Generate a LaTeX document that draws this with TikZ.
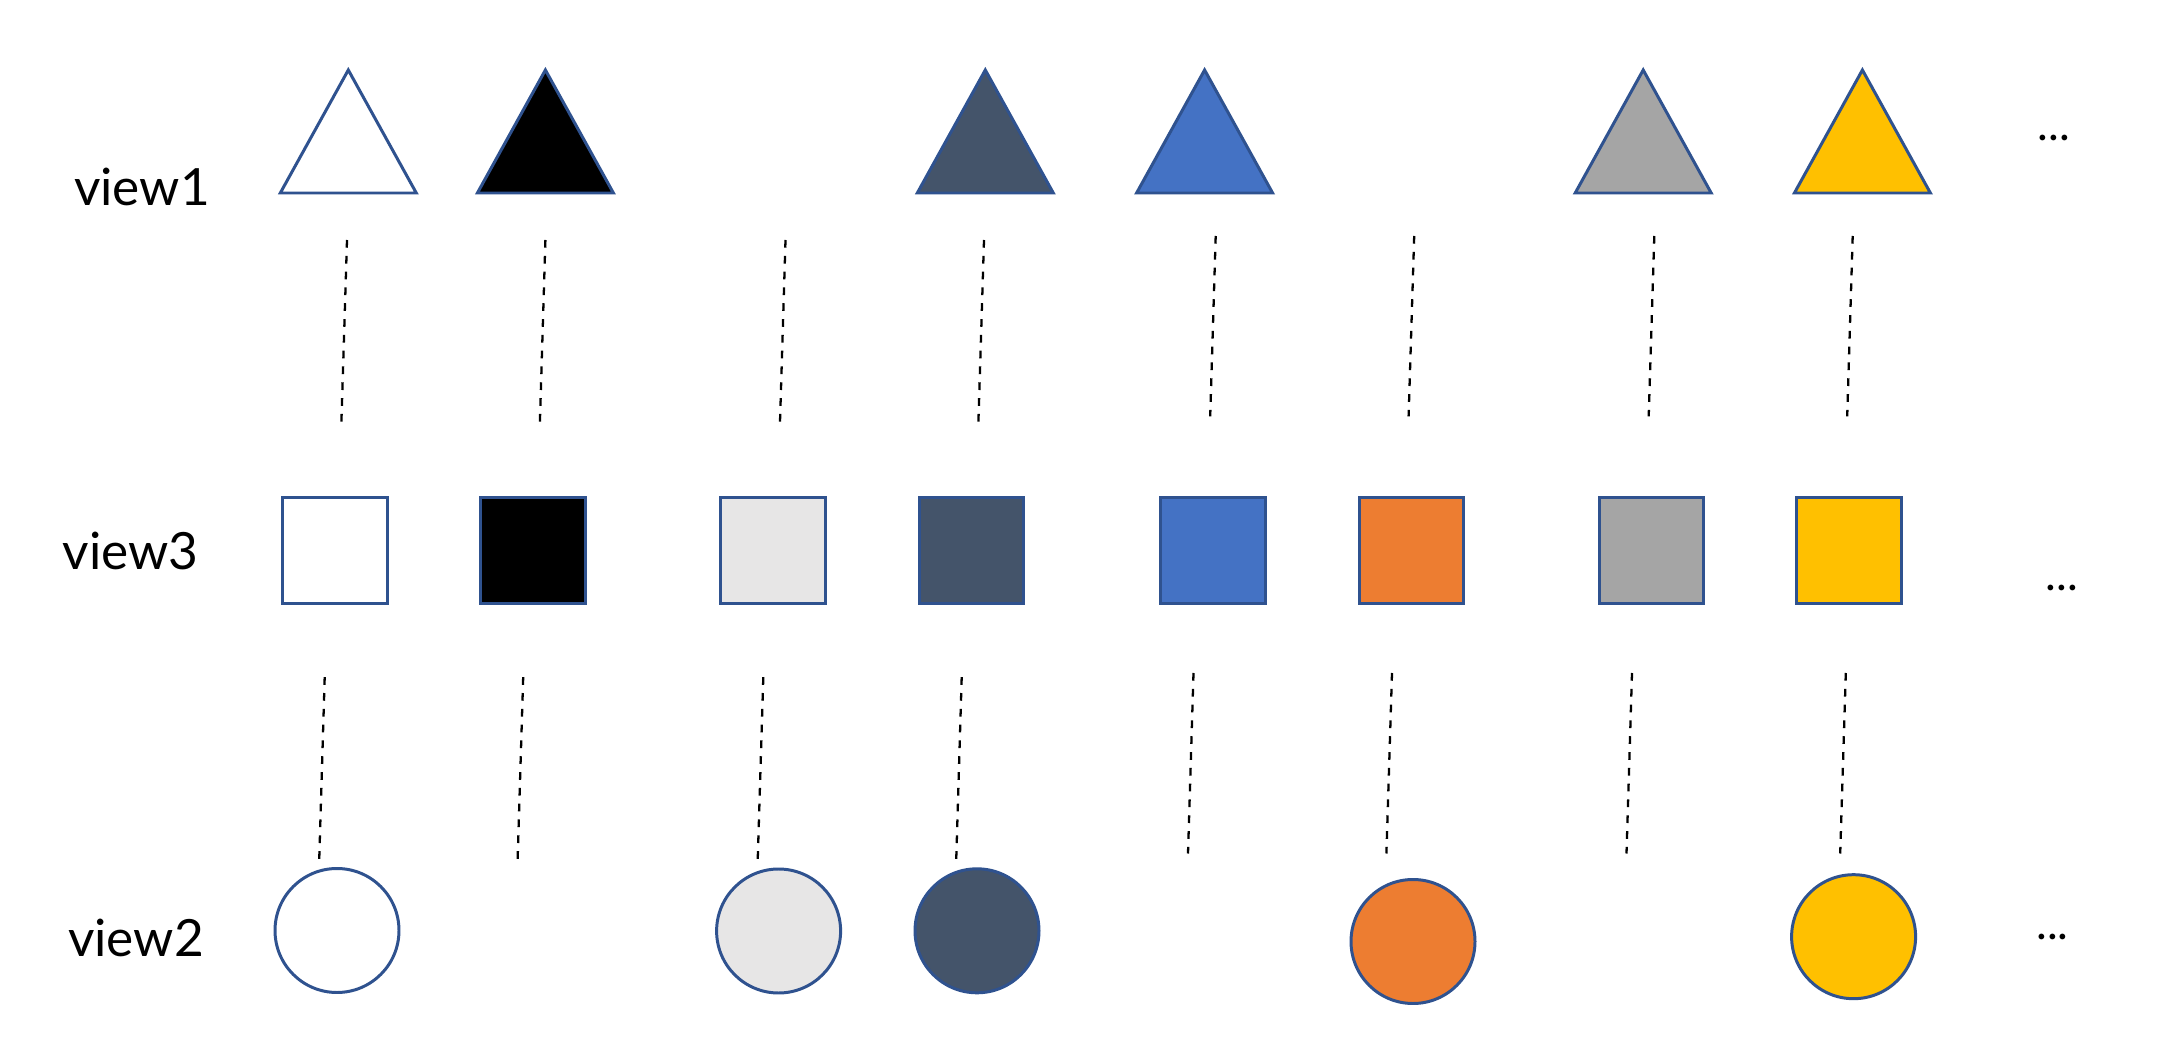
\documentclass[tikz,border=0pt]{standalone}
\usepackage{fontspec}
\setmainfont{Lato}
\usepackage{xcolor}
\usepackage{tikz}
\usetikzlibrary{shapes.geometric}
\definecolor{edgeblue}{HTML}{2F528F}
\definecolor{slate}{HTML}{44546A}
\definecolor{mblue}{HTML}{4472C4}
\definecolor{mgray}{HTML}{A5A5A5}
\definecolor{gold}{HTML}{FFC000}
\definecolor{orng}{HTML}{ED7D31}
\definecolor{lgray}{HTML}{E7E6E6}
\tikzset{
  tri/.style={isosceles triangle, isosceles triangle stretches,
              shape border rotate=90, draw=edgeblue, line width=0.85pt,
              minimum width=1.36cm, minimum height=1.23cm,
              inner sep=0pt, outer sep=0pt, anchor=apex},
  sq/.style={rectangle, draw=edgeblue, line width=0.85pt,
             minimum width=1.045cm, minimum height=1.06cm,
             inner sep=0pt, outer sep=0pt},
  circ/.style={circle, draw=edgeblue, line width=0.85pt,
               minimum size=1.24cm, inner sep=0pt, outer sep=0pt},
  lbl/.style={font=\fontsize{14.6}{17}\selectfont, anchor=base,
              inner sep=0pt},
  more/.style={font=\fontsize{13}{15}\selectfont, anchor=base,
               inner sep=0pt},
  link/.style={draw=black, line width=0.65pt, dash pattern=on 2.2pt off 2.3pt},
}

\begin{document}
\begin{tikzpicture}
  \fill[white] (0,0) rectangle (21.76,-10.57);
  \useasboundingbox (0,0) rectangle (21.76,-10.57);
  % row labels
  \node[lbl] (v1) at (1.42,-2.06)   {view1};
  \node[lbl] (v3) at (1.305,-5.70)  {view3};
  \node[lbl] (v2) at (1.36,-9.567)  {view2};
  % view1
  \node[tri, fill=white] (t1) at (3.483,-0.70)  {};
  \node[tri, fill=black] (t2) at (5.454,-0.70)  {};
  \node[tri, fill=slate] (t3) at (9.853,-0.70)  {};
  \node[tri, fill=mblue] (t4) at (12.046,-0.70) {};
  \node[tri, fill=mgray] (t5) at (16.432,-0.70) {};
  \node[tri, fill=gold]  (t6) at (18.624,-0.70) {};
  \node[more] (d1) at (20.537,-1.405) {...};
  % view3
  \node[sq, fill=white] (s1) at (3.352,-5.505)  {};
  \node[sq, fill=black] (s2) at (5.329,-5.505)  {};
  \node[sq, fill=lgray] (s3) at (7.730,-5.505)  {};
  \node[sq, fill=slate] (s4) at (9.715,-5.505)  {};
  \node[sq, fill=mblue] (s5) at (12.129,-5.505) {};
  \node[sq, fill=orng]  (s6) at (14.114,-5.505) {};
  \node[sq, fill=mgray] (s7) at (16.515,-5.505) {};
  \node[sq, fill=gold]  (s8) at (18.492,-5.505) {};
  \node[more] (d2) at (20.62,-5.905) {...};
  % view2
  \node[circ, fill=white] (c1) at (3.37,-9.305)   {};
  \node[circ, fill=lgray] (c2) at (7.786,-9.31)   {};
  \node[circ, fill=slate] (c3) at (9.77,-9.308)   {};
  \node[circ, fill=orng]  (c4) at (14.13,-9.415)  {};
  \node[circ, fill=gold]  (c5) at (18.536,-9.367) {};
  \node[more] (d3) at (20.525,-9.395) {...};
  % dashed ends, view1 -- view3
  \coordinate (a1) at (3.47,-2.40);   \coordinate (b1) at (3.414,-4.22);
  \coordinate (a2) at (5.454,-2.40);  \coordinate (b2) at (5.399,-4.22);
  \coordinate (a3) at (7.855,-2.40);  \coordinate (b3) at (7.80,-4.22);
  \coordinate (a4) at (9.84,-2.40);   \coordinate (b4) at (9.784,-4.22);
  \coordinate (a5) at (12.157,-2.36); \coordinate (b5) at (12.102,-4.163);
  \coordinate (a6) at (14.142,-2.36); \coordinate (b6) at (14.086,-4.163);
  \coordinate (a7) at (16.543,-2.36); \coordinate (b7) at (16.487,-4.163);
  \coordinate (a8) at (18.527,-2.36); \coordinate (b8) at (18.472,-4.163);
  % dashed ends, view3 -- view2
  \coordinate (e1) at (3.247,-6.772);  \coordinate (f1) at (3.192,-8.604);
  \coordinate (e2) at (5.232,-6.772);  \coordinate (f2) at (5.176,-8.604);
  \coordinate (e3) at (7.633,-6.772);  \coordinate (f3) at (7.577,-8.604);
  \coordinate (e4) at (9.617,-6.772);  \coordinate (f4) at (9.562,-8.604);
  \coordinate (e5) at (11.935,-6.73);  \coordinate (f5) at (11.88,-8.535);
  \coordinate (e6) at (13.92,-6.73);   \coordinate (f6) at (13.864,-8.535);
  \coordinate (e7) at (16.32,-6.73);   \coordinate (f7) at (16.265,-8.535);
  \coordinate (e8) at (18.458,-6.73);  \coordinate (f8) at (18.402,-8.535);
  \draw[link](a1)--(b1);
  \draw[link](a2)--(b2);
  \draw[link](a3)--(b3);
  \draw[link](a4)--(b4);
  \draw[link](a5)--(b5);
  \draw[link](a6)--(b6);
  \draw[link](a7)--(b7);
  \draw[link](a8)--(b8);
  \draw[link](e1)--(f1);
  \draw[link](e2)--(f2);
  \draw[link](e3)--(f3);
  \draw[link](e4)--(f4);
  \draw[link](e5)--(f5);
  \draw[link](e6)--(f6);
  \draw[link](e7)--(f7);
  \draw[link](e8)--(f8);
\end{tikzpicture}
\end{document}
